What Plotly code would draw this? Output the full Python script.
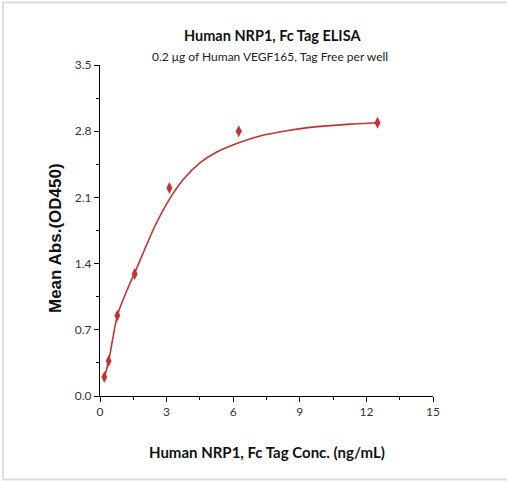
import plotly.graph_objects as go

# Measured points
conc = [0.195, 0.39, 0.78, 1.56, 3.125, 6.25, 12.5]
od450 = [0.20, 0.37, 0.85, 1.29, 2.20, 2.80, 2.89]

# Fitted curve
curve_x = [0.195, 0.39, 0.78, 1.2, 1.56, 2.03, 2.48, 3.15, 3.75, 4.5, 5.26, 6.16, 7.21, 8.41, 9.46, 11.26, 12.5]
curve_y = [0.19, 0.37, 0.85, 1.11, 1.30, 1.56, 1.80, 2.09, 2.29, 2.465, 2.58, 2.67, 2.75, 2.805, 2.84, 2.875, 2.89]

x_ticks = [0, 3, 6, 9, 12, 15]
y_ticks = [0.0, 0.7, 1.4, 2.1, 2.8, 3.5]
y_tick_labels = ["0.0", "0.7", "1.4", "2.1", "2.8", "3.5"]

title = "Human NRP1, Fc Tag ELISA"
subtitle = "0.2 μg of Human VEGF165, Tag Free per well"
x_title = "Human NRP1, Fc Tag Conc. (ng/mL)"
y_title = "Mean Abs.(OD450)"

red = "rgb(196,50,50)"
tick_font = dict(family="Lato, Open Sans, sans-serif", size=12, color="#333333")

fig = go.Figure()
fig.add_trace(go.Scatter(x=curve_x, y=curve_y, mode="lines",
                         line=dict(color=red, width=1.6, shape="spline", smoothing=0.6),
                         hoverinfo="skip", showlegend=False))
fig.add_trace(go.Scatter(x=conc, y=od450, mode="markers",
                         marker=dict(symbol="diamond-tall", size=8.5, color=red),
                         showlegend=False))

fig.update_layout(
    width=507, height=481,
    margin=dict(l=100, r=74, t=65, b=85),
    paper_bgcolor="white", plot_bgcolor="white",
    xaxis=dict(range=[0, 15], tickvals=x_ticks, showgrid=False, zeroline=False,
               showline=True, linecolor="black", linewidth=1,
               ticks="outside", ticklen=5, tickcolor="black", tickfont=tick_font,
               minor=dict(dtick=1.5, ticks="outside", ticklen=3, tickcolor="black", showgrid=False)),
    yaxis=dict(range=[0, 3.5], tickvals=y_ticks, ticktext=y_tick_labels, showgrid=False, zeroline=False,
               showline=True, linecolor="black", linewidth=1,
               ticks="outside", ticklen=5, tickcolor="black", tickfont=tick_font,
               minor=dict(dtick=0.35, ticks="outside", ticklen=3, tickcolor="black", showgrid=False)),
)

# Titles
fig.add_annotation(text="<b>" + title + "</b>", xref="paper", yref="paper",
                   x=(272 - 100) / 333, y=(396 - 35) / 331, showarrow=False,
                   font=dict(family="Lato, sans-serif", size=14.5, color="#111111"),
                   xanchor="center", yanchor="middle")
fig.add_annotation(text=subtitle, xref="paper", yref="paper",
                   x=(270 - 100) / 333, y=(396 - 57) / 331, showarrow=False,
                   font=dict(family="Lato, sans-serif", size=12, color="#222222"),
                   xanchor="center", yanchor="middle")
fig.add_annotation(text="<b>" + x_title + "</b>", xref="paper", yref="paper",
                   x=(267 - 100) / 333, y=(396 - 452) / 331, showarrow=False,
                   font=dict(family="Lato, sans-serif", size=15, color="#111111"),
                   xanchor="center", yanchor="middle")
fig.add_annotation(text="<b>" + y_title + "</b>", xref="paper", yref="paper",
                   x=(55 - 100) / 333, y=(396 - 238) / 331, showarrow=False, textangle=-90,
                   font=dict(family="Liberation Sans, Arial, sans-serif", size=17, color="#111111"),
                   xanchor="center", yanchor="middle")

# Light grey frame around the figure
fig.add_shape(type="rect", xref="paper", yref="paper",
              x0=(3 - 100) / 333, x1=(512 - 100) / 333,
              y0=(396 - 479.5) / 331, y1=(396 - 2.5) / 331,
              line=dict(color="#dddddd", width=2), layer="below")

fig.write_html("out.html", config={"displayModeBar": False},
               post_script="document.body.style.margin='0px';")
